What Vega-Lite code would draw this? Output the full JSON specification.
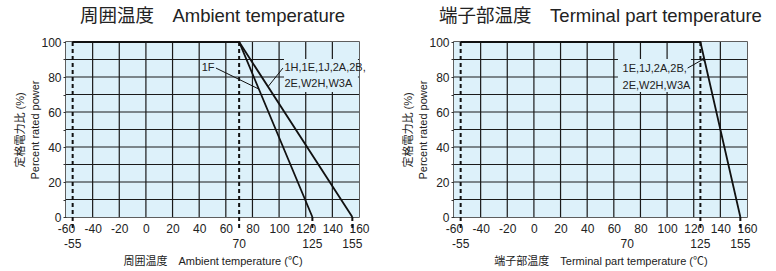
{
  "$schema": "https://vega.github.io/schema/vega-lite/v6.json",
  "padding": {"left": 14, "top": 5, "right": 0, "bottom": 0},
  "spacing": 32,
  "config": {
    "font": "Liberation Sans, Noto Sans CJK JP",
    "view": {"stroke": "#2a2a2a", "strokeWidth": 1.5},
    "title": {"fontSize": 18.5, "fontWeight": "normal", "color": "#222222", "offset": 11},
    "axis": {"labelColor": "#222222", "titleColor": "#222222", "labelFontSize": 12, "titleFontSize": 11, "titleFontWeight": "normal"}
  },
  "datasets": {
    "plotArea": [{"x": -60, "x2": 160, "y": 0, "y2": 100}],
    "vgrid": [{"x": -40}, {"x": -20}, {"x": 0}, {"x": 20}, {"x": 40}, {"x": 60}, {"x": 80}, {"x": 100}, {"x": 120}, {"x": 140}],
    "hgrid": [{"y": 10}, {"y": 20}, {"y": 30}, {"y": 40}, {"y": 50}, {"y": 60}, {"y": 70}, {"y": 80}, {"y": 90}],
    "leftCurves": [
      {"x": -55, "y": 100, "s": "1F"}, {"x": 70, "y": 100, "s": "1F"}, {"x": 125, "y": 0, "s": "1F"},
      {"x": -55, "y": 100, "s": "other"}, {"x": 70, "y": 100, "s": "other"}, {"x": 155, "y": 0, "s": "other"}
    ],
    "leftDashes": [
      {"x": -55, "y": 100, "y2": -7}, {"x": 70, "y": 100, "y2": -7}, {"x": 125, "y": 0, "y2": -7}, {"x": 155, "y": 0, "y2": -7}
    ],
    "leftBoxes": [{"x": 103.7, "x2": 159.2, "y": 90.3, "y2": 71.4}],
    "leftLeaders": [
      {"x": 52.6, "y": 85.1, "x2": 84.8, "y2": 73.1},
      {"x": 102.9, "y": 85.1, "x2": 91.5, "y2": 74.3}
    ],
    "leftNoteR": [{"x": 51.5, "y": 85, "t": "1F"}],
    "leftNoteL": [
      {"x": 104, "y": 85, "t": "1H,1E,1J,2A,2B,"},
      {"x": 104, "y": 76, "t": "2E,W2H,W3A"}
    ],
    "bottomLabels": [
      {"x": -55, "y": -15.5, "t": "-55"}, {"x": 70, "y": -15.5, "t": "70"}, {"x": 125, "y": -15.5, "t": "125"}, {"x": 155, "y": -15.5, "t": "155"}
    ],
    "rightCurves": [{"x": -55, "y": 100}, {"x": 125, "y": 100}, {"x": 155, "y": 0}],
    "rightDashes": [
      {"x": -55, "y": 100, "y2": -7}, {"x": 125, "y": 100, "y2": -7}, {"x": 155, "y": 0, "y2": -7}
    ],
    "rightBoxes": [{"x": 63.1, "x2": 117.9, "y": 90.3, "y2": 71.4}],
    "rightLeaders": [{"x": 115.4, "y": 85.1, "x2": 127.5, "y2": 90.3}],
    "rightArrow": [{"x": 127.5, "y": 90.3}],
    "rightNoteL": [
      {"x": 66.6, "y": 84.6, "t": "1E,1J,2A,2B,"},
      {"x": 66.6, "y": 75, "t": "2E,W2H,W3A"}
    ]
  },
  "hconcat": [
    {
      "width": 293,
      "height": 175,
      "title": {"text": "周囲温度　Ambient temperature"},
      "encoding": {
        "x": {
          "field": "x", "type": "quantitative",
          "scale": {"domain": [-60, 160], "nice": false, "zero": false},
          "axis": {"values": [-60, -40, -20, 0, 20, 40, 60, 80, 100, 120, 140, 160], "labelExpr": "'' + datum.value", "grid": false, "ticks": false, "domain": false, "labelPadding": 6, "labelFlush": false, "title": "周囲温度　Ambient temperature (℃)", "titlePadding": 21}
        },
        "y": {
          "field": "y", "type": "quantitative",
          "scale": {"domain": [0, 100], "nice": false, "zero": false},
          "axis": {"values": [0, 10, 20, 30, 40, 50, 60, 70, 80, 90, 100], "labelExpr": "datum.value % 20 === 0 ? datum.label : ''", "grid": false, "tickSize": 3, "tickColor": "#333333", "domain": false, "labelPadding": 2, "labelFlush": false, "title": ["定格電力比 (%)", "Percent rated power"], "titlePadding": 0, "titleLineHeight": 15}
        }
      },
      "layer": [
        {"data": {"name": "plotArea"}, "mark": {"type": "rect", "fill": "#ddf1fa", "strokeWidth": 0}, "encoding": {"x2": {"field": "x2"}, "y2": {"field": "y2"}}},
        {"data": {"name": "vgrid"}, "mark": {"type": "rule", "stroke": "#1a1a1a", "strokeWidth": 1.2, "opacity": 1}, "encoding": {"x": {"field": "x", "type": "quantitative"}, "y": null}},
        {"data": {"name": "hgrid"}, "mark": {"type": "rule", "stroke": "#1a1a1a", "strokeWidth": 1.2, "opacity": 1}, "encoding": {"y": {"field": "y", "type": "quantitative"}, "x": null}},
        {"data": {"name": "leftBoxes"}, "mark": {"type": "rect", "fill": "#ddf1fa", "strokeWidth": 0}, "encoding": {"x2": {"field": "x2"}, "y2": {"field": "y2"}}},
        {"data": {"name": "leftDashes"}, "mark": {"type": "rule", "color": "#111111", "strokeWidth": 2, "strokeDash": [4, 3]}, "encoding": {"y2": {"field": "y2"}}},
        {"data": {"name": "leftCurves"}, "mark": {"type": "line", "color": "#111111", "strokeWidth": 1.8}, "encoding": {"detail": {"field": "s"}}},
        {"data": {"name": "leftLeaders"}, "mark": {"type": "rule", "color": "#111111", "strokeWidth": 1}, "encoding": {"x2": {"field": "x2"}, "y2": {"field": "y2"}}},
        {"data": {"name": "leftNoteR"}, "mark": {"type": "text", "align": "right", "baseline": "middle", "fontSize": 11, "color": "#222222"}, "encoding": {"text": {"field": "t"}}},
        {"data": {"name": "leftNoteL"}, "mark": {"type": "text", "align": "left", "baseline": "middle", "fontSize": 11, "color": "#222222"}, "encoding": {"text": {"field": "t"}}},
        {"data": {"name": "bottomLabels"}, "mark": {"type": "text", "align": "center", "baseline": "middle", "fontSize": 12, "color": "#222222"}, "encoding": {"text": {"field": "t"}}}
      ]
    },
    {
      "width": 293,
      "height": 175,
      "title": {"text": "端子部温度　Terminal part temperature"},
      "encoding": {
        "x": {
          "field": "x", "type": "quantitative",
          "scale": {"domain": [-60, 160], "nice": false, "zero": false},
          "axis": {"values": [-60, -40, -20, 0, 20, 40, 60, 80, 100, 120, 140, 160], "labelExpr": "'' + datum.value", "grid": false, "ticks": false, "domain": false, "labelPadding": 6, "labelFlush": false, "title": "端子部温度　Terminal part temperature (℃)", "titlePadding": 21}
        },
        "y": {
          "field": "y", "type": "quantitative",
          "scale": {"domain": [0, 100], "nice": false, "zero": false},
          "axis": {"values": [0, 10, 20, 30, 40, 50, 60, 70, 80, 90, 100], "labelExpr": "datum.value % 20 === 0 ? datum.label : ''", "grid": false, "tickSize": 3, "tickColor": "#333333", "domain": false, "labelPadding": 2, "labelFlush": false, "title": ["定格電力比 (%)", "Percent rated power"], "titlePadding": 0, "titleLineHeight": 15}
        }
      },
      "layer": [
        {"data": {"name": "plotArea"}, "mark": {"type": "rect", "fill": "#ddf1fa", "strokeWidth": 0}, "encoding": {"x2": {"field": "x2"}, "y2": {"field": "y2"}}},
        {"data": {"name": "vgrid"}, "mark": {"type": "rule", "stroke": "#1a1a1a", "strokeWidth": 1.2, "opacity": 1}, "encoding": {"x": {"field": "x", "type": "quantitative"}, "y": null}},
        {"data": {"name": "hgrid"}, "mark": {"type": "rule", "stroke": "#1a1a1a", "strokeWidth": 1.2, "opacity": 1}, "encoding": {"y": {"field": "y", "type": "quantitative"}, "x": null}},
        {"data": {"name": "rightBoxes"}, "mark": {"type": "rect", "fill": "#ddf1fa", "strokeWidth": 0}, "encoding": {"x2": {"field": "x2"}, "y2": {"field": "y2"}}},
        {"data": {"name": "rightDashes"}, "mark": {"type": "rule", "color": "#111111", "strokeWidth": 2, "strokeDash": [4, 3]}, "encoding": {"y2": {"field": "y2"}}},
        {"data": {"name": "rightCurves"}, "mark": {"type": "line", "color": "#111111", "strokeWidth": 1.8}, "encoding": {}},
        {"data": {"name": "rightLeaders"}, "mark": {"type": "rule", "color": "#111111", "strokeWidth": 1}, "encoding": {"x2": {"field": "x2"}, "y2": {"field": "y2"}}},
        {"data": {"name": "rightArrow"}, "mark": {"type": "point", "shape": "triangle-right", "filled": true, "color": "#111111", "size": 14, "angle": 330, "opacity": 1}, "encoding": {}},
        {"data": {"name": "rightNoteL"}, "mark": {"type": "text", "align": "left", "baseline": "middle", "fontSize": 11, "color": "#222222"}, "encoding": {"text": {"field": "t"}}},
        {"data": {"name": "bottomLabels"}, "mark": {"type": "text", "align": "center", "baseline": "middle", "fontSize": 12, "color": "#222222"}, "encoding": {"text": {"field": "t"}}}
      ]
    }
  ]
}
